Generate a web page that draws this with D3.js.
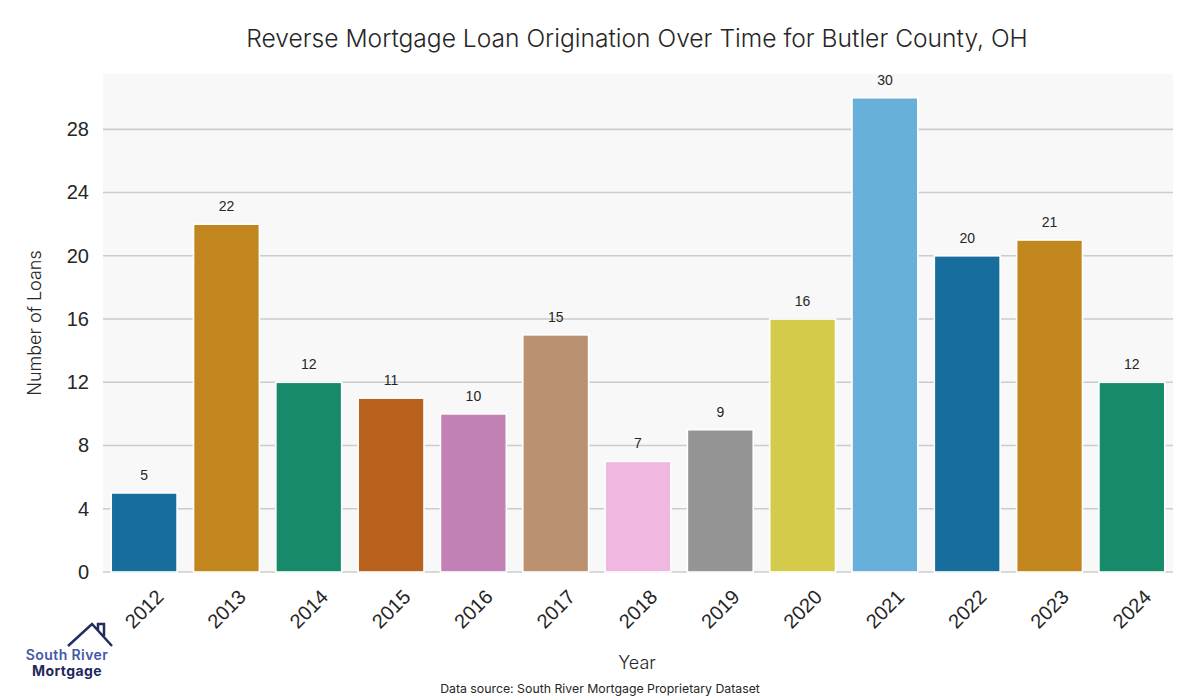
<!DOCTYPE html>
<html><head><meta charset="utf-8">
<script src="https://cdn.jsdelivr.net/npm/d3@7"></script>
<style>body{margin:0;background:#fff;}svg{display:block;}</style>
</head><body>
<svg id="c" width="1200" height="700"></svg>
<script>
const years = ["2012","2013","2014","2015","2016","2017","2018","2019","2020","2021","2022","2023","2024"];
const loans = [5,22,12,11,10,15,7,9,16,30,20,21,12];
const yTicks = [0,4,8,12,16,20,24,28];
const palette = ["#176d9c","#c2861f","#178a69","#b8611d","#c281b5","#bb9271","#f0b8e0","#949494","#d5cb4b","#67b0d9","#176d9c","#c2861f","#178a69"];

const svg = d3.select("#c");
const m = {l:103, r:1173, t:74, b:572};
const x = d3.scaleBand().domain(years).range([m.l, m.r]).paddingInner(0.2).paddingOuter(0.1);
const y = d3.scaleLinear().domain([0, 31.5]).range([m.b, m.t]);

svg.append("rect").attr("x", m.l).attr("y", m.t).attr("width", m.r-m.l).attr("height", m.b-m.t).attr("fill", "#f8f8f8");

svg.append("g").selectAll("line").data(yTicks).join("line")
  .attr("x1", m.l).attr("x2", m.r).attr("y1", d=>y(d)).attr("y2", d=>y(d))
  .attr("stroke", "#cccccc").attr("stroke-width", 1.6);

svg.append("g").selectAll("rect").data(loans).join("rect")
  .attr("x", (d,i)=>x(years[i])).attr("width", x.bandwidth())
  .attr("y", d=>y(d)).attr("height", d=>y(0)-y(d))
  .attr("fill", (d,i)=>palette[i]).attr("stroke", "#fff").attr("stroke-width", 1.6);

svg.append("g").selectAll("text").data(loans).join("text")
  .attr("x", (d,i)=>x(years[i])+x.bandwidth()/2).attr("y", d=>y(d)-13)
  .attr("text-anchor","middle").attr("font-family","Liberation Sans, Arial, sans-serif")
  .attr("font-size", 14).attr("fill","#262626").text(d=>d);

// y axis
const ya = svg.append("g").attr("transform", `translate(${m.l},0)`)
  .call(d3.axisLeft(y).tickValues(yTicks).tickSize(0).tickPadding(14));
ya.select(".domain").remove();
ya.selectAll("text").attr("font-family","Liberation Sans, Arial, sans-serif").attr("font-size",20).attr("fill","#262626");

// x axis
const xa = svg.append("g").attr("transform", `translate(0,${m.b})`)
  .call(d3.axisBottom(x).tickSize(0).tickPadding(0));
xa.select(".domain").remove();
xa.selectAll("text")
  .attr("font-family","Liberation Sans, Arial, sans-serif").attr("font-size",20).attr("fill","#262626")
  .attr("text-anchor","middle").attr("dy", null).attr("y", 0)
  .attr("transform", "translate(0,37) rotate(-45)")
  .attr("dominant-baseline","central");

svg.append("text").attr("x", 637).attr("y", 47).attr("text-anchor","middle")
  .attr("font-family","Inter, sans-serif").attr("font-size", 24.6).attr("font-weight",300).attr("fill","#262626")
  .text("Reverse Mortgage Loan Origination Over Time for Butler County, OH");

svg.append("text").attr("transform","translate(41,323) rotate(-90)").attr("text-anchor","middle")
  .attr("font-family","Inter, sans-serif").attr("font-size", 18).attr("font-weight",300).attr("fill","#262626")
  .text("Number of Loans");

svg.append("text").attr("x", 637).attr("y", 669).attr("text-anchor","middle")
  .attr("font-family","Inter, sans-serif").attr("font-size", 18).attr("font-weight",300).attr("fill","#262626")
  .text("Year");

svg.append("text").attr("x", 600).attr("y", 693).attr("text-anchor","middle")
  .attr("font-family","Inter, sans-serif").attr("font-size", 12.3).attr("fill","#262626")
  .text("Data source: South River Mortgage Proprietary Dataset");

// logo
const lg = svg.append("g");
lg.append("path").attr("d","M68,646 L92,624 L112,646 M98,630 L98,624 L104,624 L104,636")
  .attr("fill","none").attr("stroke","#222c5e").attr("stroke-width",2.5).attr("stroke-linejoin","miter");
lg.append("text").attr("x",67).attr("y",660).attr("text-anchor","middle")
  .attr("font-family","Inter, sans-serif").attr("font-size",14).attr("font-weight",600).attr("fill","#4358a8")
  .attr("letter-spacing",0.4).text("South River");
lg.append("text").attr("x",67).attr("y",676).attr("text-anchor","middle")
  .attr("font-family","Inter, sans-serif").attr("font-size",14).attr("font-weight",700).attr("fill","#1f2a5c")
  .attr("letter-spacing",0.4).text("Mortgage");
</script>
</body></html>
